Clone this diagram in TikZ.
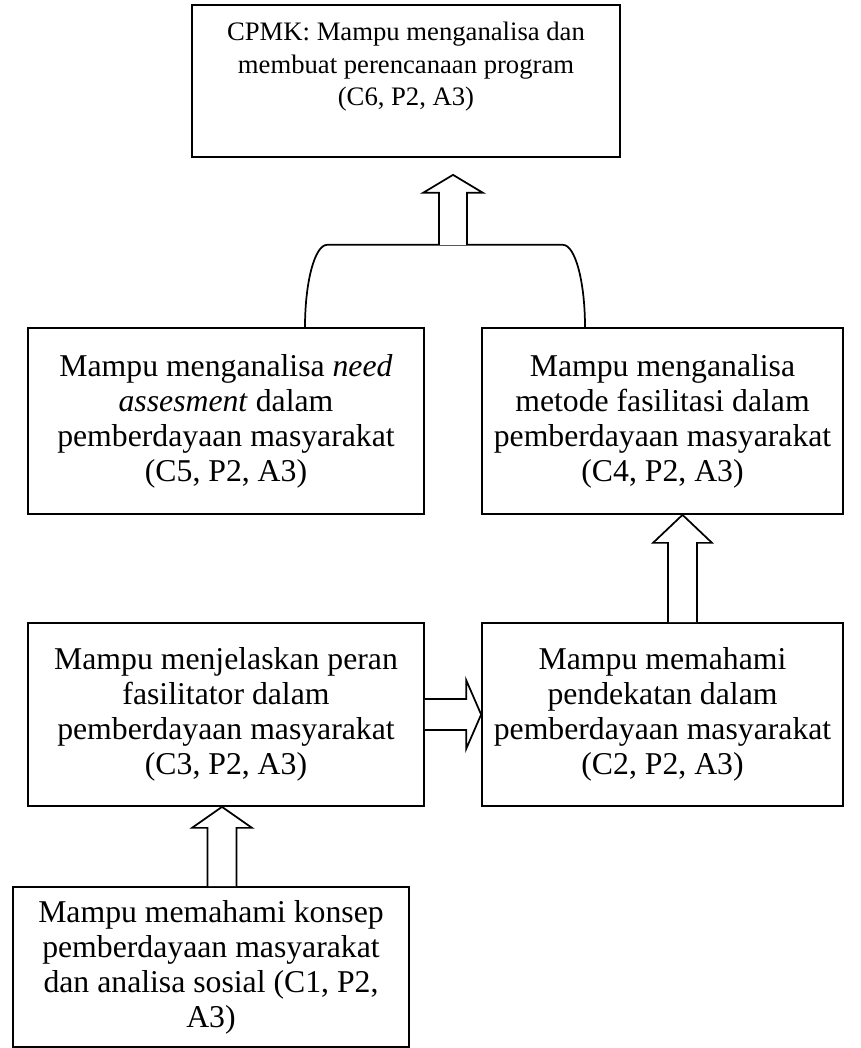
\documentclass[tikz,border=0pt]{standalone}
\usepackage{fontspec}
\setmainfont{Liberation Serif}
\usetikzlibrary{calc}

% vertical block arrow: base, tip, shaft half width, head half width, head length
\newcommand{\blockup}[5]{%
  \draw[blockarrow] ($(#1)+(-#3,0)$) -- ($(#2)+(-#3,-#5)$) -- ($(#2)+(-#4,-#5)$) -- (#2)
    -- ($(#2)+(#4,-#5)$) -- ($(#2)+(#3,-#5)$) -- ($(#1)+(#3,0)$);}
% horizontal block arrow: same arguments
\newcommand{\blockright}[5]{%
  \draw[blockarrow] ($(#1)+(0,#3)$) -- ($(#2)+(-#5,#3)$) -- ($(#2)+(-#5,#4)$) -- (#2)
    -- ($(#2)+(-#5,-#4)$) -- ($(#2)+(-#5,-#3)$) -- ($(#1)+(0,-#3)$);}

\begin{document}
\begin{tikzpicture}[x=0.75pt,y=0.75pt,
  capbox/.style={draw=black,line width=1.3pt,rectangle,align=center,inner sep=0pt,
    font=\fontsize{23.8}{26.25}\selectfont},
  blockarrow/.style={draw=black,fill=white,line width=1.3pt,line join=miter}]
  \useasboundingbox (0,0) rectangle (860,-1048);
  \def\lw{1.3pt}
  % boxes
  \node[capbox,minimum width=321pt,minimum height=114pt,font=\fontsize{20}{24.4}\selectfont,
    text height=37.5pt,text depth=0pt] (cpmk) at (406,-81)
    {CPMK: Mampu menganalisa dan\\membuat perencanaan program\\(C6, P2, A3)};
  \node[capbox,minimum width=297pt,minimum height=139.5pt] (c5) at (226,-421)
    {Mampu menganalisa \textit{need}\\\textit{assesment} dalam\\pemberdayaan masyarakat\\(C5, P2, A3)};
  \node[capbox,minimum width=270.75pt,minimum height=139.5pt] (c4) at (662.5,-421)
    {Mampu menganalisa\\metode fasilitasi dalam\\pemberdayaan masyarakat\\(C4, P2, A3)};
  \node[capbox,minimum width=297pt,minimum height=137.25pt] (c3) at (226,-714.5)
    {Mampu menjelaskan peran\\fasilitator dalam\\pemberdayaan masyarakat\\(C3, P2, A3)};
  \node[capbox,minimum width=270.75pt,minimum height=137.25pt] (c2) at (662.5,-714.5)
    {Mampu memahami\\pendekatan dalam\\pemberdayaan masyarakat\\(C2, P2, A3)};
  \node[capbox,minimum width=297pt,minimum height=120pt] (c1) at (211,-967)
    {Mampu memahami konsep\\pemberdayaan masyarakat\\dan analisa sosial (C1, P2,\\A3)};
  % bracket joining c5 and c4
  \coordinate (tipc6) at ($(cpmk.south)+(47,-17)$);
  \coordinate (joint) at ($(cpmk.south)+(47,-87)$);
  \coordinate (legc5) at ($(c5.north)+(79,0)$);
  \coordinate (legc4) at ($(c4.north)+(-77.5,0)$);
  \draw[line width=\lw] (legc5) .. controls ($(legc5)+(0,46)$) and ($(legc5 |- joint)+(10,0)$)
    .. ($(legc5 |- joint)+(22,0)$) -- ($(legc4 |- joint)+(-22,0)$)
    .. controls ($(legc4 |- joint)+(-10,0)$) and ($(legc4)+(0,46)$) .. (legc4);
  % block arrows
  \blockup{joint}{tipc6}{14}{30}{18}
  \coordinate (basec2) at ($(c2.north)+(20,0)$);
  \coordinate (tipc4) at (basec2 |- c4.south);
  \blockup{basec2}{tipc4}{14.5}{29.5}{28}
  \blockright{c3.east}{c2.west}{15.5}{34.5}{15}
  \coordinate (basec1) at ($(c1.north)+(11,0)$);
  \coordinate (tipc3) at (basec1 |- c3.south);
  \blockup{basec1}{tipc3}{14.5}{30}{21}
\end{tikzpicture}
\end{document}
